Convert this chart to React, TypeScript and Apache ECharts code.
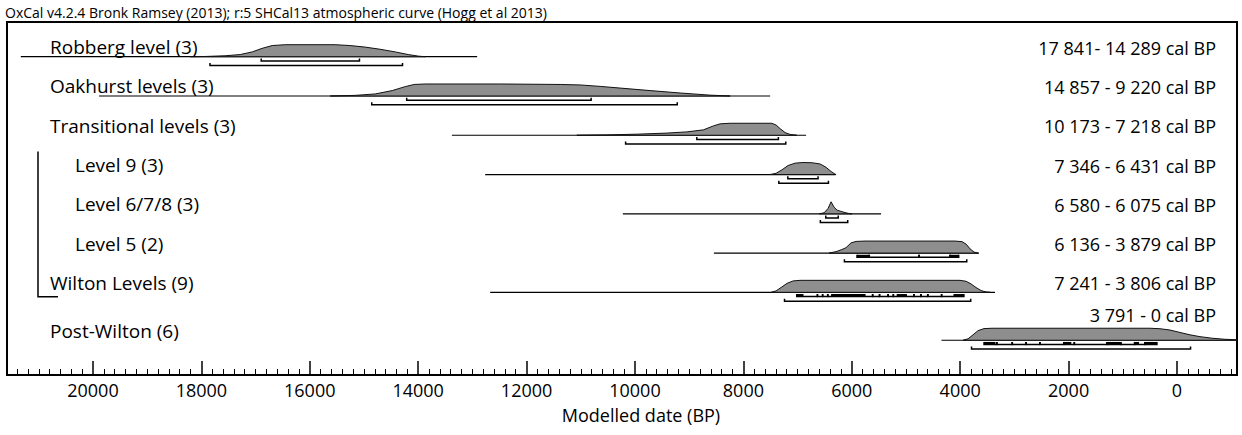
import React, { useEffect, useRef } from "react";
import * as echarts from "echarts";

// ---------- data ----------
const rowNames = [
  "Robberg level (3)",
  "Oakhurst levels (3)",
  "Transitional levels (3)",
  "Level 9 (3)",
  "Level 6/7/8 (3)",
  "Level 5 (2)",
  "Wilton Levels (9)",
  "Post-Wilton (6)",
];

const rangeLabels = [
  "17 841- 14 289 cal BP",
  "14 857 - 9 220 cal BP",
  "10 173 - 7 218 cal BP",
  "7 346 - 6 431 cal BP",
  "6 580 - 6 075 cal BP",
  "6 136 - 3 879 cal BP",
  "7 241 - 3 806 cal BP",
  "3 791 - 0 cal BP",
];

const nestedRows = [false, false, false, true, true, true, false, false];

// extent of the plotted (prior) range, years BP
const priorSpans: [number, number][] = [
  [21332, 12912],
  [19888, 7507],
  [13378, 6843],
  [12764, 6301],
  [10224, 5460],
  [8544, 3652],
  [12672, 3357],
  [4346, -1107],
];

// posterior probability curves: [year BP, relative height]
const robbergDist: [number, number][] = [
  [18205, 0], [17929, 0.02], [17560, 0.08], [17283, 0.18], [17062, 0.4], [16877, 0.7],
  [16693, 0.93], [16453, 1], [15531, 1], [15254, 0.93], [14977, 0.8], [14701, 0.62],
  [14424, 0.4], [14184, 0.18], [14000, 0.05], [13871, 0],
];
const oakhurstDist: [number, number][] = [
  [15623, 0], [15162, 0.05], [14793, 0.17], [14479, 0.45], [14240, 0.78], [14074, 0.96],
  [13871, 1], [12487, 1], [11381, 0.96], [11012, 0.92], [10643, 0.8], [10274, 0.66],
  [9721, 0.45], [9167, 0.25], [8614, 0.07], [8245, 0],
];
const transitionalDist: [number, number][] = [
  [11073, 0], [10519, 0.03], [9966, 0.09], [9413, 0.18], [9044, 0.28], [8737, 0.45],
  [8553, 0.78], [8429, 0.95], [8245, 1], [7476, 1], [7396, 0.85], [7322, 0.55],
  [7230, 0.22], [7138, 0.07], [7015, 0],
];
const level9Dist: [number, number][] = [
  [7507, 0], [7396, 0.1], [7286, 0.4], [7175, 0.75], [7046, 0.95], [6899, 1],
  [6732, 0.98], [6585, 0.88], [6474, 0.6], [6382, 0.25], [6308, 0.03], [6290, 0],
];
const level678Dist: [number, number][] = [
  [6603, 0], [6511, 0.08], [6437, 0.45], [6382, 1], [6327, 0.55], [6271, 0.3],
  [6197, 0.2], [6124, 0.1], [6050, 0.02], [5995, 0],
];
const level5Dist: [number, number][] = [
  [6419, 0], [6290, 0.12], [6179, 0.3], [6106, 0.45], [6013, 0.85], [5921, 0.97],
  [5755, 1], [4095, 1], [3966, 0.95], [3892, 0.75], [3818, 0.35], [3744, 0.08], [3671, 0],
];
const wiltonDist: [number, number][] = [
  [7489, 0], [7396, 0.12], [7305, 0.4], [7194, 0.75], [7083, 0.95], [6954, 1],
  [4003, 1], [3892, 0.92], [3800, 0.7], [3708, 0.4], [3615, 0.15], [3523, 0.03], [3449, 0],
];
const postWiltonDist: [number, number][] = [
  [3947, 0], [3855, 0.12], [3763, 0.45], [3671, 0.8], [3560, 0.97], [3412, 1],
  [498, 1], [314, 0.96], [129, 0.85], [-55, 0.65], [-240, 0.45], [-424, 0.3],
  [-646, 0.17], [-885, 0.08], [-1107, 0.04], [-1107, 0],
];
const distributions = [
  robbergDist, oakhurstDist, transitionalDist, level9Dist,
  level678Dist, level5Dist, wiltonDist, postWiltonDist,
];

// 68.2% highest posterior density ranges (possibly several per row)
const ranges68: [number, number][][] = [
  [[16896, 15083]],
  [[14212, 10809]],
  [[8859, 7354]],
  [[7180, 6622]],
  [[6480, 6250]],
  [[5904, 5681], [5676, 4762], [4756, 4190], [4185, 4028]],
  [[7016, 6637], [6630, 6541], [6535, 6445], [6440, 5618], [5612, 5491], [5485, 5333],
   [5327, 5236], [5230, 4855], [4850, 4727], [4721, 4600], [4594, 4346], [4340, 3932]],
  [[3560, 3327], [3320, 3043], [3037, 2787], [2781, 2532], [2526, 2088], [2082, 1898],
   [1892, 1293], [1287, 1038], [1032, 784], [778, 594], [588, 370]],
];
// clusters of very short 68.2% sub-ranges (drawn as bold runs)
const dense68: [number, number][][] = [
  [], [], [], [], [],
  [[5904, 5681], [4187, 4028]],
  [[7016, 6891], [6382, 5746], [5172, 4982], [4124, 3932]],
  [[3560, 3350], [2100, 1950], [1300, 1050], [780, 700], [600, 370]],
];
// 95.4% ranges
const ranges95: [number, number][] = [
  [17841, 14289],
  [14857, 9220],
  [10173, 7218],
  [7346, 6431],
  [6580, 6075],
  [6136, 3879],
  [7241, 3806],
  [3791, -250],
];

const majorTicks = [20000, 18000, 16000, 14000, 12000, 10000, 8000, 6000, 4000, 2000, 0];
const axisMin = -1107;
const axisMax = 21586;

const titleText =
  "OxCal v4.2.4 Bronk Ramsey (2013); r:5 SHCal13 atmospheric curve (Hogg et al 2013)";
const axisTitle = "Modelled date (BP)";

// ---------- layout ----------
const FONT = "'Open Sans', 'Noto Sans', sans-serif";
const PEAK = 12; // px height of a normalised curve
const rowPos = (i: number) => i + (i === 7 ? 0.22 : 0);

export default function App() {
  const ref = useRef<HTMLDivElement>(null);

  useEffect(() => {
    document.body.style.margin = "0";
    if (!ref.current) return;
    const chart = echarts.init(ref.current, null, { renderer: "svg" });

    const minorTicks: number[] = [];
    for (let v = -1000; v <= 21400; v += 200) if (v % 2000 !== 0) minorTicks.push(v);

    const renderItem = (params: any, api: any) => {
      const i = api.value(0);
      const rowY = rowPos(i);
      const baseY = api.coord([0, rowY])[1];
      const X = (yr: number) => api.coord([yr, rowY])[0];
      const children: any[] = [];

      // group bracket for the Wilton phase
      if (i === 6) {
        const topY = api.coord([0, rowPos(3)])[1] - 23;
        const botY = baseY + 4.5;
        const gx = params.coordSys.x + 31;
        children.push({
          type: "polyline",
          shape: { points: [[gx, topY], [gx, botY], [gx + 20, botY]] },
          style: { stroke: "#000", lineWidth: 1.5, fill: null },
        });
      }

      const [s, e] = priorSpans[i];
      children.push({
        type: "line",
        shape: { x1: X(s), y1: baseY, x2: X(e), y2: baseY },
        style: { stroke: "#000", lineWidth: 1.2 },
      });

      const pts = distributions[i].map(([yr, h]) => [X(yr), baseY - h * PEAK]);
      children.push({
        type: "polygon",
        shape: { points: pts },
        style: { fill: "#8e8e8e", stroke: "#111", lineWidth: 1 },
      });

      const bracket = (a: number, b: number, y: number) => ({
        type: "polyline",
        shape: { points: [[X(a), y - 2.5], [X(a), y], [X(b), y], [X(b), y - 2.5]] },
        style: { stroke: "#000", lineWidth: 1.5, fill: null },
      });
      const y68 = baseY + 4.2;
      const y95 = baseY + 8.8;
      ranges68[i].forEach(([a, b]) => children.push(bracket(a, b, y68)));
      dense68[i].forEach(([a, b]) =>
        children.push({
          type: "line",
          shape: { x1: X(a), y1: y68 - 1, x2: X(b), y2: y68 - 1 },
          style: { stroke: "#000", lineWidth: 3 },
        })
      );
      const [a95, b95] = ranges95[i];
      children.push(bracket(a95, b95, y95));

      const left = params.coordSys.x;
      const right = params.coordSys.x + params.coordSys.width;
      children.push({
        type: "text",
        x: left + (nestedRows[i] ? 68 : 43),
        y: baseY - 9.5,
        style: {
          text: rowNames[i],
          font: `19px ${FONT}`,
          fill: "#000",
          textAlign: "left",
          textVerticalAlign: "middle",
        },
      });
      children.push({
        type: "text",
        x: right - 21,
        y: baseY - (i === 7 ? 25 : 9),
        style: {
          text: rangeLabels[i],
          font: `18px ${FONT}`,
          fill: "#000",
          textAlign: "right",
          textVerticalAlign: "middle",
        },
      });

      return { type: "group", children };
    };

    chart.setOption({
      animation: false,
      grid: {
        left: 7,
        right: 5,
        top: 22,
        bottom: 60,
        show: true,
        borderColor: "#000",
        borderWidth: 2,
        backgroundColor: "transparent",
      },
      xAxis: [
        {
          type: "value",
          inverse: true,
          min: axisMin,
          max: axisMax,
          position: "bottom",
          splitLine: { show: false },
          axisLine: { show: true, onZero: false, lineStyle: { color: "#000", width: 2 } },
          axisTick: {
            show: true,
            inside: true,
            length: 14,
            customValues: majorTicks,
            lineStyle: { color: "#000", width: 1.5 },
          },
          axisLabel: {
            show: true,
            customValues: majorTicks,
            margin: 6,
            color: "#000",
            fontSize: 18,
            fontFamily: FONT,
            formatter: (v: number) => String(v),
          },
        },
        {
          type: "value",
          inverse: true,
          min: axisMin,
          max: axisMax,
          position: "bottom",
          offset: 0,
          splitLine: { show: false },
          axisLine: { show: false, onZero: false },
          axisTick: {
            show: true,
            inside: true,
            length: 6,
            customValues: minorTicks,
            lineStyle: { color: "#000", width: 1 },
          },
          axisLabel: { show: false },
        },
      ],
      yAxis: {
        type: "value",
        inverse: true,
        min: -0.884,
        max: 8.105,
        show: false,
      },
      graphic: [
        {
          type: "text",
          left: 5,
          top: 5,
          style: { text: titleText, font: `14px ${FONT}`, fill: "#000" },
        },
        {
          type: "text",
          x: 641,
          y: 415,
          style: {
            text: axisTitle,
            font: `18px ${FONT}`,
            fill: "#000",
            textAlign: "center",
            textVerticalAlign: "middle",
          },
        },
      ],
      series: [
        {
          type: "custom",
          xAxisIndex: 0,
          yAxisIndex: 0,
          clip: true,
          renderItem,
          data: rowNames.map((_, i) => [i]),
        },
      ],
    });

    return () => chart.dispose();
  }, []);

  return <div ref={ref} style={{ width: 1242, height: 435 }} />;
}
